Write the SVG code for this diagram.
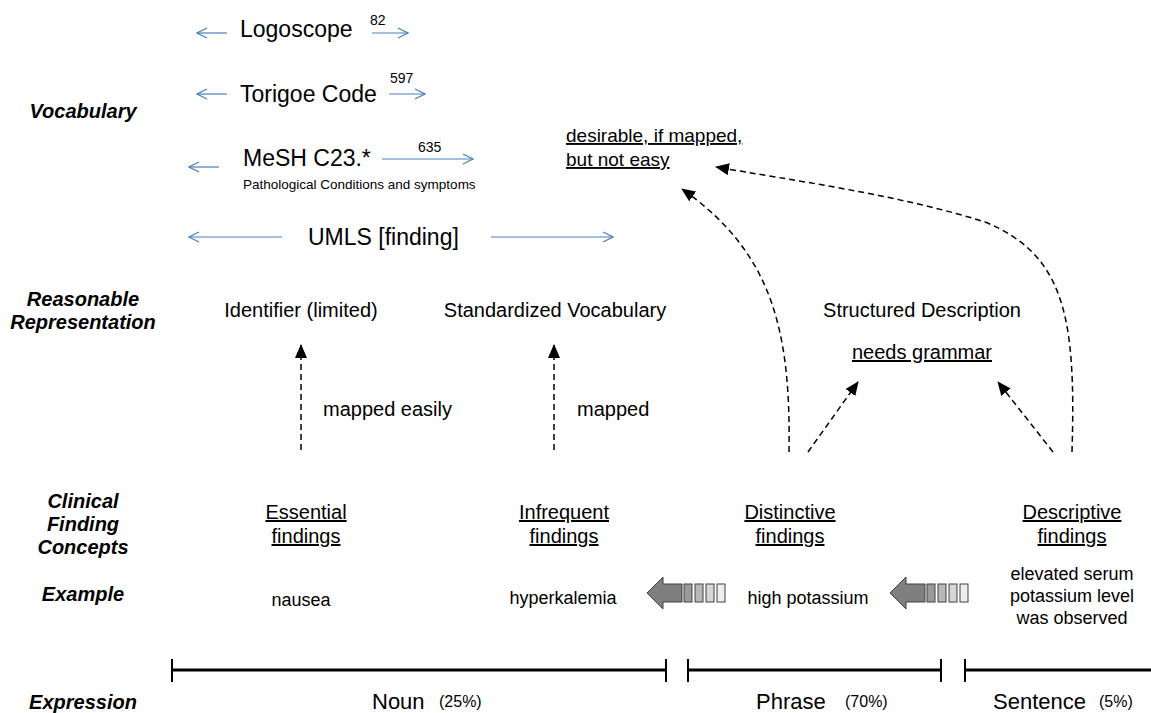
<svg xmlns="http://www.w3.org/2000/svg" width="1151" height="713" viewBox="0 0 1151 713">
<defs>
<style>
text{font-family:"Liberation Sans",Arial,sans-serif;fill:#000}
.lab{font-weight:bold;font-style:italic;font-size:20px;text-anchor:middle}
.big{font-size:23px}
.sup{font-size:14px}
.mid{font-size:20px}
.ex{font-size:18px;text-anchor:middle}
.exl{font-size:22px}
.pct{font-size:16px}
.ctr{text-anchor:middle}
.u{text-decoration:underline}
.blue{stroke:#4a7ebb;stroke-width:1.2;fill:none;marker-end:url(#oa)}
.dash{stroke:#000;stroke-width:1.5;fill:none;stroke-dasharray:6 4;marker-end:url(#fa)}
.bar{stroke:#000;stroke-width:3;fill:none}
.tk{stroke:#000;stroke-width:2;fill:none}
.ga{fill:#7f7f7f;stroke:#404040;stroke-width:1}
</style>
<marker id="oa" viewBox="0 0 12 12" refX="11" refY="6" markerWidth="12" markerHeight="12" markerUnits="userSpaceOnUse" orient="auto">
<path d="M1,1 L11,6 L1,11" fill="none" stroke="#4a7ebb" stroke-width="1.2"/>
</marker>
<marker id="fa" viewBox="0 0 14 12" refX="13" refY="6" markerWidth="14" markerHeight="12" markerUnits="userSpaceOnUse" orient="auto">
<path d="M0,0 L14,6 L0,12 z" fill="#000"/>
</marker>
<g id="gray-arrow">
<path class="ga" d="M0,0 L16,-16 L16,-9 L35,-9 L35,9 L16,9 L16,16 z"/>
<rect x="37" y="-9" width="8" height="18" fill="#9a9a9a" stroke="#404040" stroke-width="1"/>
<rect x="48" y="-9" width="8" height="18" fill="#b8b8b8" stroke="#404040" stroke-width="1"/>
<rect x="59" y="-9" width="8" height="18" fill="#d6d6d6" stroke="#404040" stroke-width="1"/>
<rect x="70" y="-9" width="8" height="18" fill="#eeeeee" stroke="#404040" stroke-width="1"/>
</g>
</defs>
<rect width="1151" height="713" fill="#fff"/>

<g id="row-labels">
<text class="lab" x="83" y="118">Vocabulary</text>
<text class="lab" x="83" y="306">Reasonable</text>
<text class="lab" x="83" y="329">Representation</text>
<text class="lab" x="83" y="508">Clinical</text>
<text class="lab" x="83" y="531">Finding</text>
<text class="lab" x="83" y="554">Concepts</text>
<text class="lab" x="83" y="601">Example</text>
<text class="lab" x="83" y="709">Expression</text>
</g>

<g id="vocab-logoscope">
<text class="big" x="240" y="37">Logoscope</text>
<text class="sup" x="370" y="25">82</text>
</g>
<g id="vocab-torigoe">
<text class="big" x="240" y="102">Torigoe Code</text>
<text class="sup" x="390" y="83">597</text>
</g>
<g id="vocab-mesh">
<text class="big" x="243" y="166">MeSH C23.*</text>
<text class="sup" x="418" y="152">635</text>
<text x="243" y="189" style="font-size:13.5px">Pathological Conditions and symptoms</text>
</g>
<g id="vocab-umls">
<text class="big" x="308" y="245">UMLS [finding]</text>
</g>
<g id="desirable">
<text x="566" y="142" style="font-size:19px" class="u">desirable, if mapped,</text>
<text x="566" y="166" style="font-size:19px" class="u">but not easy</text>
</g>

<g id="rep-identifier"><text class="mid ctr" x="301" y="317">Identifier (limited)</text></g>
<g id="rep-standardized"><text class="mid ctr" x="555" y="317">Standardized Vocabulary</text></g>
<g id="rep-structured">
<text class="mid ctr" x="922" y="317">Structured Description</text>
<text class="mid ctr u" x="922" y="359">needs grammar</text>
</g>

<g id="concept-essential"><text class="mid ctr u" x="306" y="519">Essential</text><text class="mid ctr u" x="306" y="543">findings</text></g>
<g id="concept-infrequent"><text class="mid ctr u" x="564" y="519">Infrequent</text><text class="mid ctr u" x="564" y="543">findings</text></g>
<g id="concept-distinctive"><text class="mid ctr u" x="790" y="519">Distinctive</text><text class="mid ctr u" x="790" y="543">findings</text></g>
<g id="concept-descriptive"><text class="mid ctr u" x="1072" y="519">Descriptive</text><text class="mid ctr u" x="1072" y="543">findings</text></g>

<g id="ex-nausea"><text class="ex" x="301" y="606">nausea</text></g>
<g id="ex-hyperkalemia"><text class="ex" x="563" y="604">hyperkalemia</text></g>
<g id="ex-high"><text class="ex" x="808" y="604">high potassium</text></g>
<g id="ex-elevated">
<text class="ex" x="1072" y="580">elevated serum</text>
<text class="ex" x="1072" y="602">potassium level</text>
<text class="ex" x="1072" y="624">was observed</text>
</g>
<g id="gray-arrows">
<use href="#gray-arrow" x="647" y="593"/>
<use href="#gray-arrow" x="890" y="593"/>
</g>

<g id="expression">
<path class="bar" d="M172,670 H666 M688,670 H941 M965,670 H1151"/>
<path class="tk" d="M172,659 V682 M666,659 V682 M688,659 V682 M941,659 V682 M965,659 V682"/>
<text class="exl" x="372" y="709">Noun</text><text class="pct" x="439" y="707">(25%)</text>
<text class="exl" x="756" y="709">Phrase</text><text class="pct" x="845" y="707">(70%)</text>
<text class="exl" x="993" y="709">Sentence</text><text class="pct" x="1099" y="707">(5%)</text>
</g>

<g id="edge-labels">
<text x="323" y="416" class="mid">mapped easily</text>
<text x="577" y="416" class="mid">mapped</text>
</g>

<g id="connectors">
<path class="blue" d="M227,33 H197"/>
<path class="blue" d="M372,33 H408"/>
<path class="blue" d="M227,94 H197"/>
<path class="blue" d="M389,94 H425"/>
<path class="blue" d="M219,167 H189"/>
<path class="blue" d="M382,159 H473"/>
<path class="blue" d="M282,237 H189"/>
<path class="blue" d="M491,237 H613"/>
<path class="dash" d="M301,450 V345"/>
<path class="dash" d="M554,450 V345"/>
<path class="dash" d="M808,452 L858,382"/>
<path class="dash" d="M1053,452 L998,382"/>
<path class="dash" d="M789,452 C791,330 772,252 682,189"/>
<path class="dash" d="M1072,452 C1076,320 1066,255 985,222 C900,195 790,180 716,167"/>
</g>
</svg>
